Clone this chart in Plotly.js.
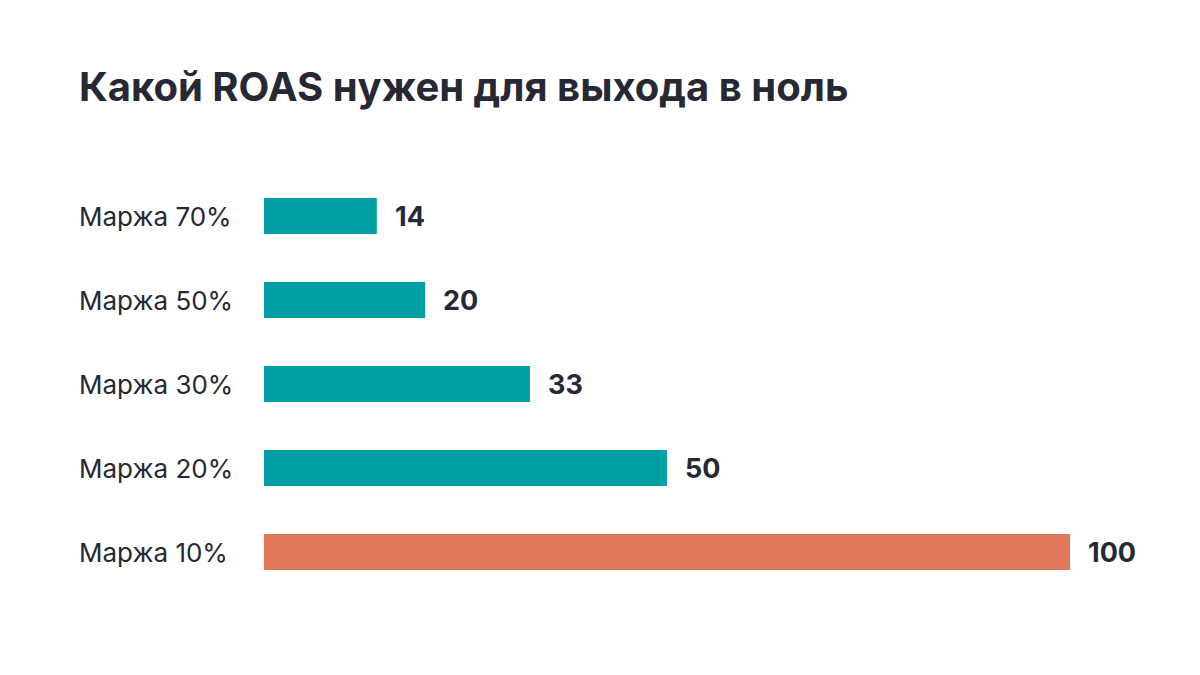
<!DOCTYPE html>
<html>
<head>
<meta charset="utf-8">
<script src="https://cdn.plot.ly/plotly-3.0.1.min.js"></script>
<style>
  html, body { margin: 0; padding: 0; background: #ffffff; }
  #chart { width: 1200px; height: 675px; }
</style>
</head>
<body>
<div id="chart"></div>
<script>
const Plotly = window.Plotly;

// data, top to bottom as in the picture
const categories = ["Маржа 70%", "Маржа 50%", "Маржа 30%", "Маржа 20%", "Маржа 10%"];
const roas = [14, 20, 33, 50, 100];
const barColors = ["#00A0A5", "#00A0A5", "#00A0A5", "#00A0A5", "#E2785B"];

const textColor = "#262934";
const fontFamily = "Inter, 'Noto Sans', sans-serif";

const traceRoas = {
    type: "bar",
    orientation: "h",
    x: roas,
    y: categories,
    marker: { color: barColors, line: { width: 0 } },
    hoverinfo: "skip"
};

// value labels to the right of each bar
const valueNotes = roas.map((v, i) => ({
    x: v,
    y: categories[i],
    xref: "x",
    yref: "y",
    text: `<b>${v}</b>`,
    showarrow: false,
    xanchor: "left",
    xshift: 16,
    font: { family: fontFamily, size: 27, color: textColor }
}));

// category labels, left aligned at the title's left edge
// (paper x is relative to the plot area: 264px left, 806px wide)
const categoryNotes = categories.map(c => ({
    x: (77 - 264) / 806,
    y: c,
    xref: "paper",
    yref: "y",
    text: c,
    showarrow: false,
    xanchor: "left",
    font: { family: fontFamily, size: 26, color: textColor }
}));

const layoutRoas = {
    width: 1200,
    height: 675,
    font: { family: fontFamily, color: textColor },
    title: {
        text: "<b>Какой ROAS нужен для выхода в ноль</b>",
        font: { family: fontFamily, size: 40, color: textColor },
        xref: "container",
        yref: "container",
        x: 79 / 1200,
        xanchor: "left",
        y: 1 - 73 / 675,
        yanchor: "top"
    },
    margin: { l: 264, r: 130, t: 174, b: 81 },
    xaxis: {
        range: [0, 100],
        visible: false,
        fixedrange: true
    },
    yaxis: {
        type: "category",
        autorange: "reversed",
        showticklabels: false,
        showgrid: false,
        zeroline: false,
        showline: false,
        ticks: "",
        fixedrange: true
    },
    bargap: 0.57,
    showlegend: false,
    annotations: valueNotes.concat(categoryNotes),
    paper_bgcolor: "#ffffff",
    plot_bgcolor: "#ffffff"
};

Plotly.newPlot("chart", [traceRoas], layoutRoas, { displayModeBar: false, staticPlot: true });
</script>
</body>
</html>
